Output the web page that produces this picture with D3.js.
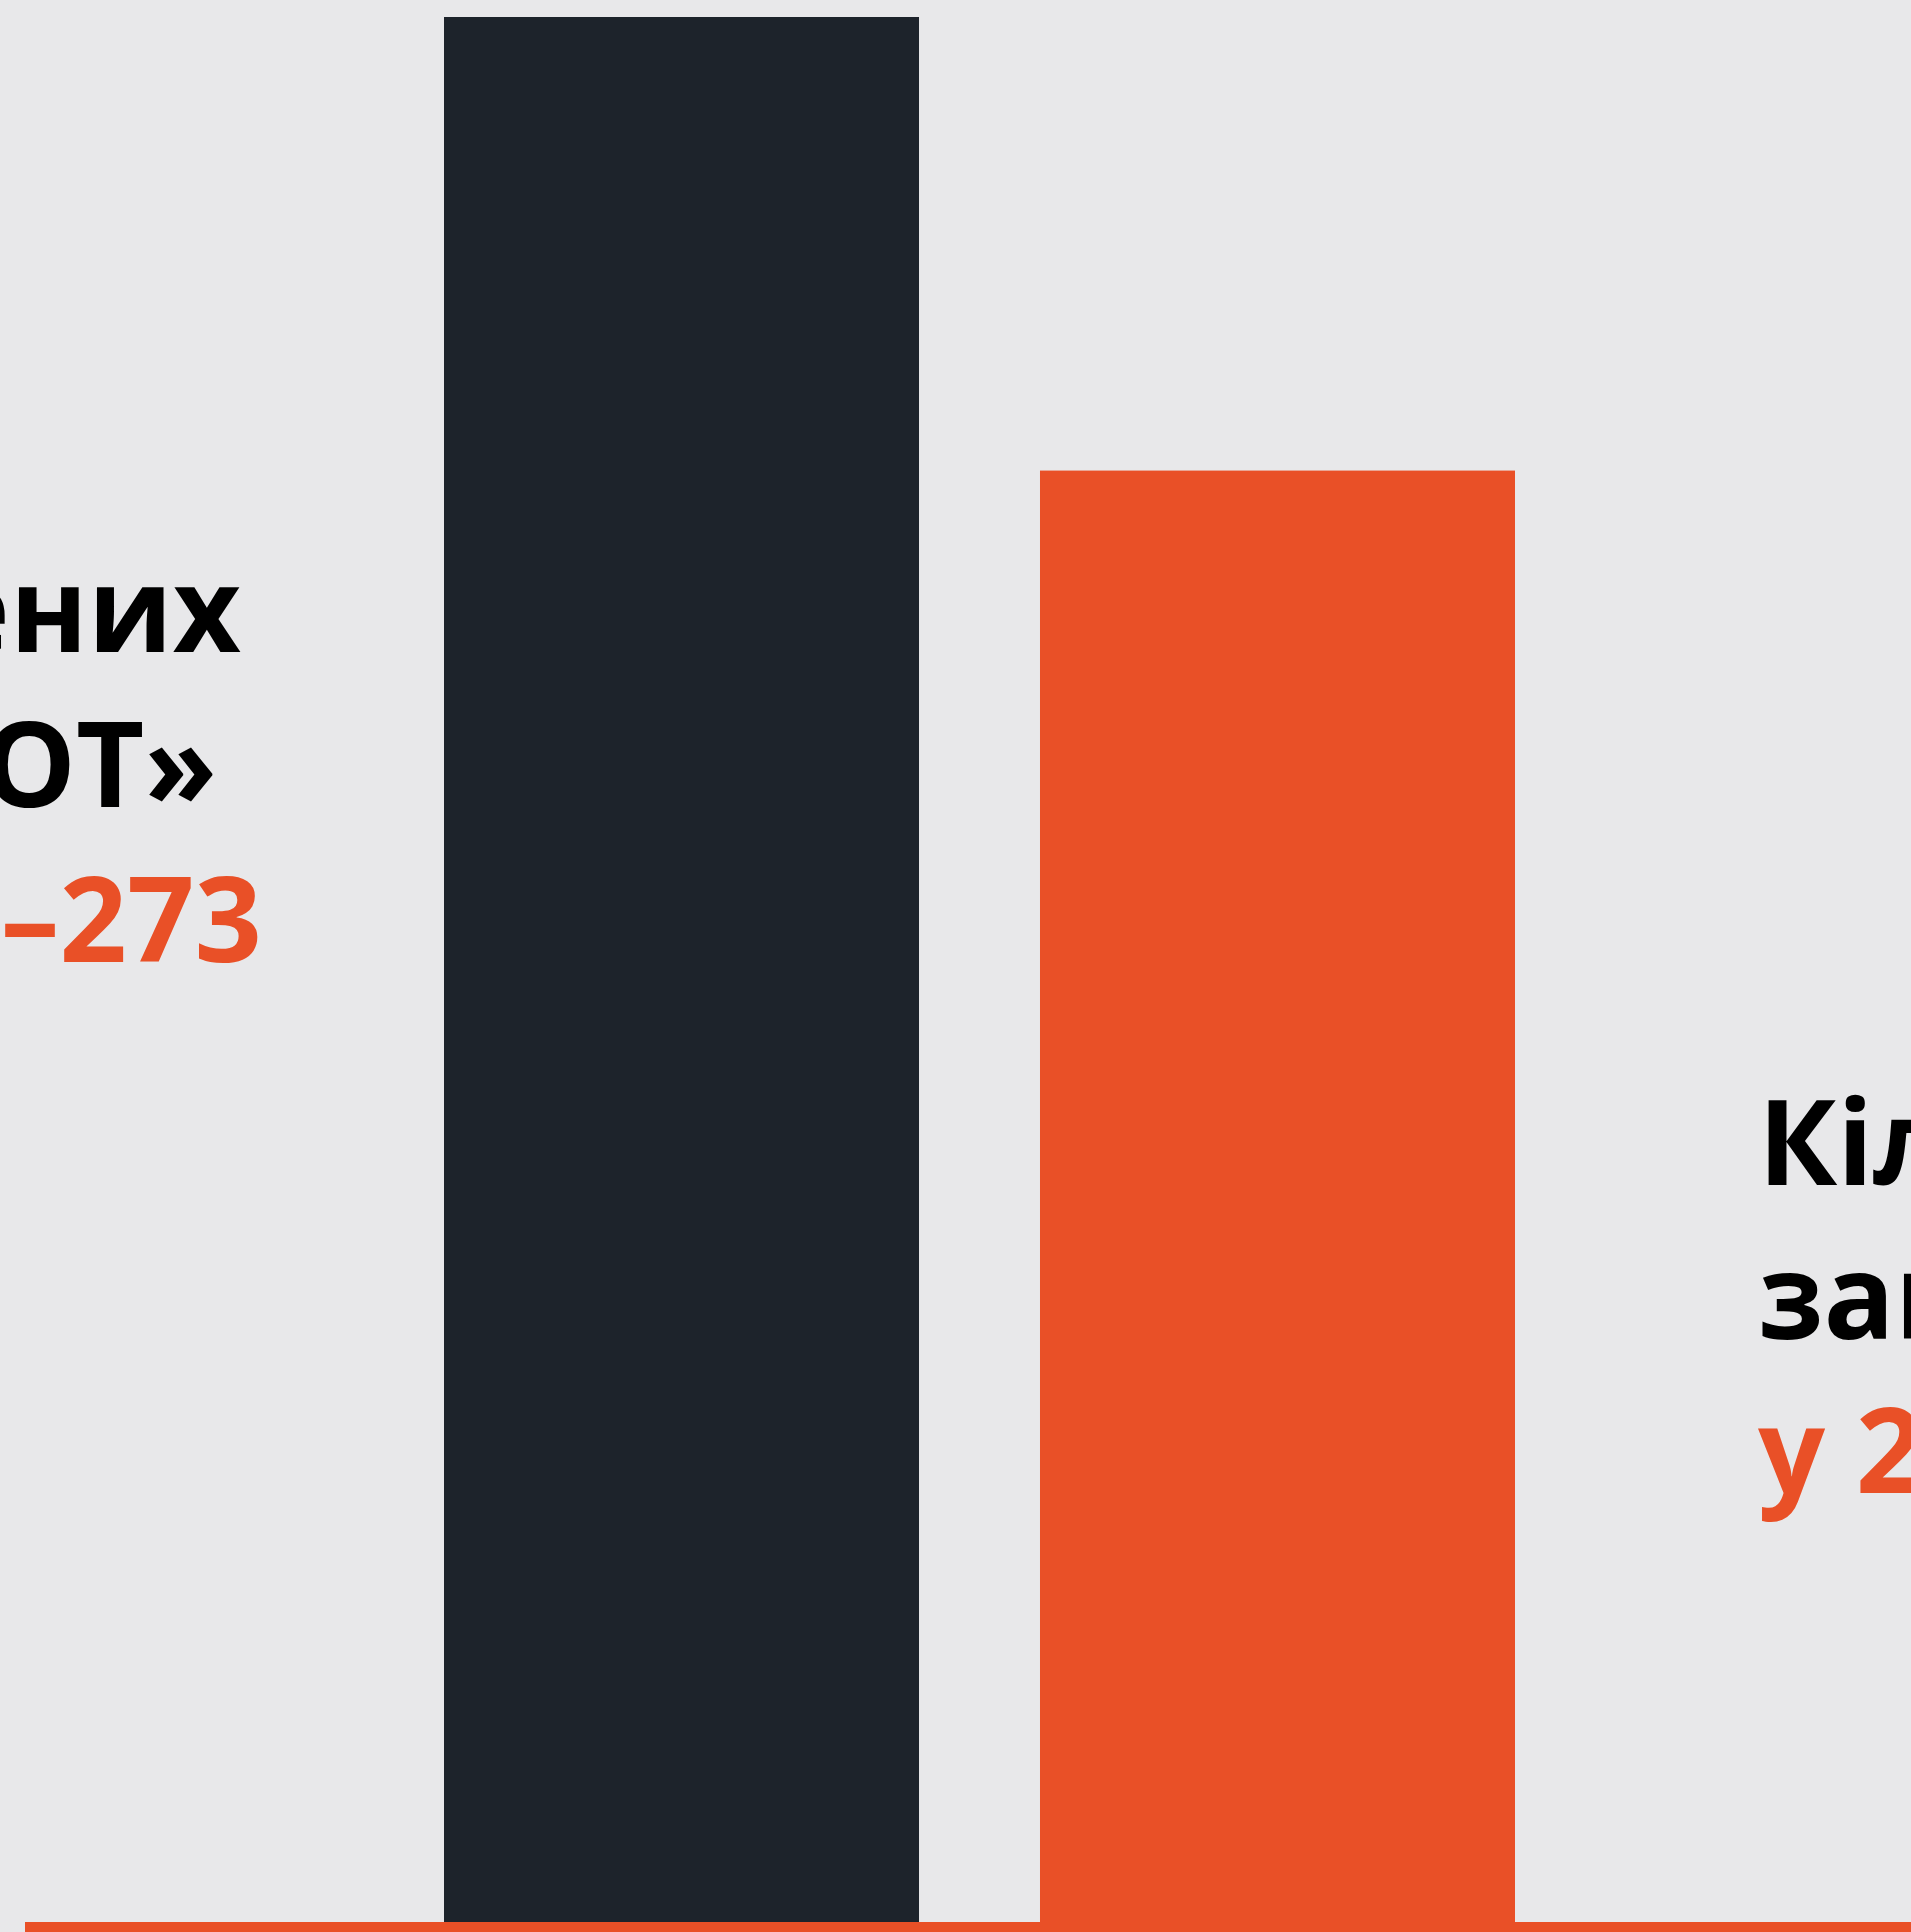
<!DOCTYPE html>
<html>
<head>
<meta charset="utf-8">
<script src="https://cdn.jsdelivr.net/npm/d3@7"></script>
<style>
  html, body { margin: 0; padding: 0; background: #e8e8ea; overflow: hidden; }
  svg { display: block; }
  .label { font-family: "Open Sans", sans-serif; font-weight: 700; font-size: 118px; }
</style>
</head>
<body>
<div id="chart"></div>
<script>
var years = ["2022", "2023"];
var values = [273, 208];
var bar_colors = ["#1d232b", "#e95027"];
var left_label = ["знищених", "«ПАТРІОТ»", "у 2022 –273"];
var right_label = ["Кількість", "загиблих", "у 2023 –208"];

var W = 1911, H = 1932;
var baseline = 1922;

var svg = d3.select("#chart")
            .append("svg")
            .attr("width", W)
            .attr("height", H);

svg.append("rect")
   .attr("width", W)
   .attr("height", H)
   .attr("fill", "#e8e8ea");

var x_scale = d3.scaleBand().domain(years).range([444, 1515]).paddingInner(0.203).paddingOuter(0);
var y_scale = d3.scaleLinear().domain([0, 273]).range([baseline, 17]);

svg.append("g")
   .selectAll("rect")
   .data(values)
   .enter()
   .append("rect")
   .attr("x", function(d, i) { return x_scale(years[i]); })
   .attr("y", function(d) { return y_scale(d); })
   .attr("width", x_scale.bandwidth())
   .attr("height", function(d) { return baseline - y_scale(d); })
   .attr("fill", function(d, i) { return bar_colors[i]; });

// baseline rule
svg.append("rect")
   .attr("x", 25)
   .attr("y", baseline)
   .attr("width", W - 25)
   .attr("height", H - baseline)
   .attr("fill", "#e95027");

// left label, cut by the page edge
var left_ends = [241, 217, 262];
svg.append("g")
   .selectAll("text")
   .data(left_label)
   .enter()
   .append("text")
   .attr("class", "label")
   .attr("text-anchor", "end")
   .attr("x", function(d, i) { return left_ends[i]; })
   .attr("y", function(d, i) { return 652 + i * 155; })
   .attr("fill", function(d, i) { return i == 2 ? "#e95027" : "#000"; })
   .text(function(d) { return d; });

// right label
svg.append("g")
   .selectAll("text")
   .data(right_label)
   .enter()
   .append("text")
   .attr("class", "label")
   .attr("x", 1758)
   .attr("y", function(d, i) { return 1185 + i * 154; })
   .attr("fill", function(d, i) { return i == 2 ? "#e95027" : "#000"; })
   .text(function(d) { return d; });
</script>
</body>
</html>
